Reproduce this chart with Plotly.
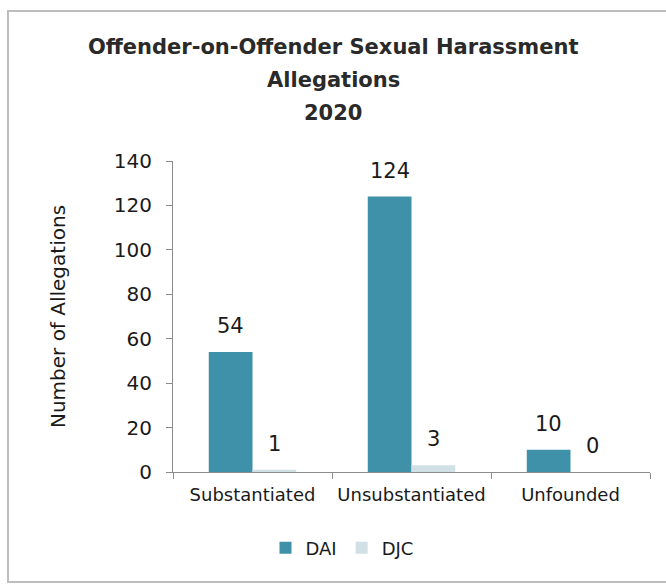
import plotly.graph_objects as go

categories = ["Substantiated", "Unsubstantiated", "Unfounded"]
dai_values = [54, 124, 10]
djc_values = [1, 3, 0]
series_names = ["DAI", "DJC"]
title_lines = ["Offender-on-Offender Sexual Harassment", "Allegations", "2020"]
y_ticks = [0, 20, 40, 60, 80, 100, 120, 140]

FONT = "DejaVu Sans"
TXT = "#1a1a1a"
DAI_COLOR = "#3f91a9"
DJC_COLOR = "#d0e0e5"

W, H = 666, 585
L, R, T, B = 173, 16, 161, 113
pw = W - L - R
ph = H - T - B
BARGAP = 0.45
bar_w = (1 - BARGAP) / 2


def px_x(px):
    return (px - L) / pw


def px_y(py):
    return (H - B - py) / ph


fig = go.Figure()
fig.add_trace(go.Bar(
    x=categories, y=dai_values, name=series_names[0],
    marker=dict(color=DAI_COLOR, line=dict(width=0)),
))
fig.add_trace(go.Bar(
    x=categories, y=djc_values, name=series_names[1],
    marker=dict(color=DJC_COLOR, line=dict(width=0)),
))

# data labels placed above each bar
for si, vals in enumerate([dai_values, djc_values]):
    off = (si - 0.5) * bar_w
    for ci, v in enumerate(vals):
        fig.add_annotation(x=ci + off, y=v, xref="x", yref="y", text=str(v),
                           showarrow=False, yanchor="middle", yshift=26,
                           font=dict(family=FONT, size=21, color=TXT))

# title lines
for i, line in enumerate(title_lines):
    fig.add_annotation(x=px_x(333), y=px_y(47 + 33 * i), xref="paper", yref="paper",
                       text="<b>" + line + "</b>", showarrow=False,
                       xanchor="center", yanchor="middle",
                       font=dict(family=FONT, size=21, color="#2a2a2a"))

# outer border
fig.add_shape(type="rect", xref="paper", yref="paper",
              x0=px_x(8), x1=px_x(W + 5),
              y0=px_y(582), y1=px_y(11),
              line=dict(color="#bdbdbd", width=2), fillcolor="rgba(0,0,0,0)", layer="below")

fig.update_layout(
    width=W, height=H,
    margin=dict(l=L, r=R, t=T, b=B),
    paper_bgcolor="white", plot_bgcolor="white",
    barmode="group", bargap=BARGAP, bargroupgap=0,
    font=dict(family=FONT, color=TXT),
    showlegend=True,
    legend=dict(orientation="h", x=px_x(342), xanchor="center",
                y=px_y(548), yanchor="middle",
                font=dict(family=FONT, size=18, color=TXT),
                itemwidth=30, tracegroupgap=0, bgcolor="rgba(0,0,0,0)"),
    xaxis=dict(
        showline=True, linecolor="#8c8c8c", linewidth=1,
        ticks="outside", tickson="boundaries", ticklen=6, tickcolor="#8c8c8c",
        tickfont=dict(family=FONT, size=18, color=TXT), ticklabelstandoff=6,
        showgrid=False,
    ),
    yaxis=dict(
        range=[0, 140], tickvals=y_ticks, showline=True, linecolor="#8c8c8c", linewidth=1,
        ticks="outside", ticklen=6, tickcolor="#8c8c8c",
        tickfont=dict(family=FONT, size=20, color=TXT), ticklabelstandoff=10,
        showgrid=False, zeroline=False,
        title=dict(text="Number of Allegations", font=dict(family=FONT, size=20, color=TXT), standoff=42),
    ),
)

fig.write_html("out.html")
